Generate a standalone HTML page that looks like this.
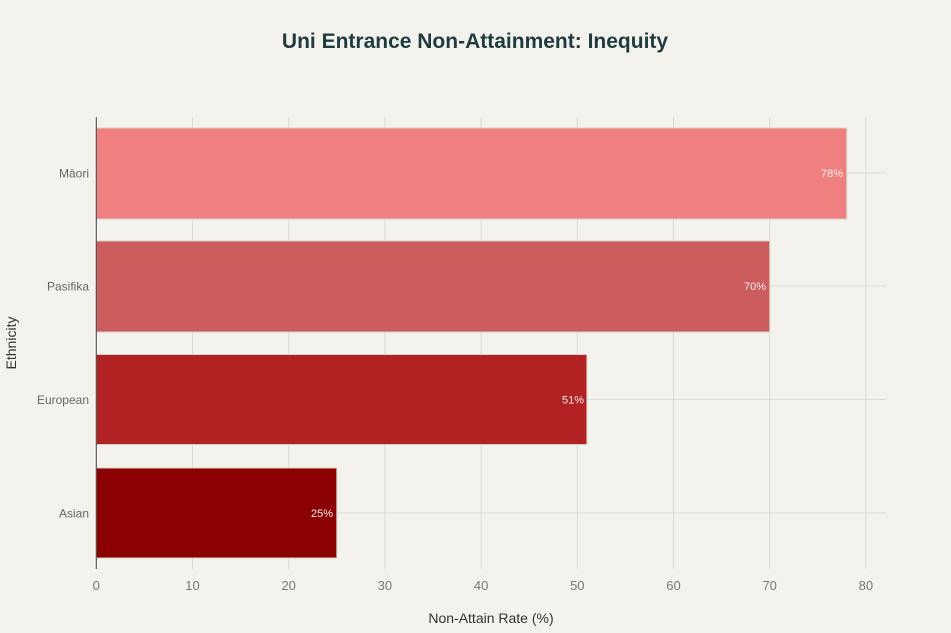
<!DOCTYPE html>
<html><head><meta charset="utf-8"><style>
html,body{margin:0;padding:0;background:#F3F2EC;}
svg{display:block;font-family:"Liberation Sans",sans-serif;}
</style></head><body>
<svg width="951" height="633" viewBox="0 0 951 633">
<rect width="951" height="633" fill="#F3F2EC"/>
<text x="475" y="48" text-anchor="middle" font-size="21" font-weight="bold" fill="#1F3B3F">Uni Entrance Non-Attainment: Inequity</text>
<g stroke="#DCDCD6" stroke-width="1">
<line x1="192.5" y1="117" x2="192.5" y2="569"/>
<line x1="288.7" y1="117" x2="288.7" y2="569"/>
<line x1="384.9" y1="117" x2="384.9" y2="569"/>
<line x1="481.1" y1="117" x2="481.1" y2="569"/>
<line x1="577.3" y1="117" x2="577.3" y2="569"/>
<line x1="673.5" y1="117" x2="673.5" y2="569"/>
<line x1="769.7" y1="117" x2="769.7" y2="569"/>
<line x1="865.9" y1="117" x2="865.9" y2="569"/>
<line x1="96" y1="173" x2="886" y2="173"/>
<line x1="96" y1="286" x2="886" y2="286"/>
<line x1="96" y1="399.5" x2="886" y2="399.5"/>
<line x1="96" y1="513" x2="886" y2="513"/>
</g>
<g stroke="#D8D0C8" stroke-width="1">
<rect x="96.3" y="128" width="750.4" height="91" fill="#F08080"/>
<rect x="96.3" y="241" width="673.4" height="91" fill="#CD5C5C"/>
<rect x="96.3" y="354.5" width="490.6" height="90" fill="#B22222"/>
<rect x="96.3" y="468" width="240.5" height="90" fill="#8B0000"/>
</g>
<line x1="96.3" y1="117" x2="96.3" y2="569" stroke="#444" stroke-width="1"/>
<g font-size="11" fill="#F3EEEE" text-anchor="end">
<text x="843" y="177">78%</text>
<text x="766" y="290">70%</text>
<text x="584" y="403.5">51%</text>
<text x="333" y="517">25%</text>
</g>
<g font-size="12" fill="#666" text-anchor="end">
<text x="89" y="177.5">Māori</text>
<text x="89" y="290.5">Pasifika</text>
<text x="89" y="404">European</text>
<text x="89" y="517.5">Asian</text>
</g>
<g font-size="13" fill="#777" text-anchor="middle">
<text x="96.3" y="590">0</text>
<text x="192.5" y="590">10</text>
<text x="288.7" y="590">20</text>
<text x="384.9" y="590">30</text>
<text x="481.1" y="590">40</text>
<text x="577.3" y="590">50</text>
<text x="673.5" y="590">60</text>
<text x="769.7" y="590">70</text>
<text x="865.9" y="590">80</text>
</g>
<text x="491" y="623" text-anchor="middle" font-size="14" fill="#333">Non-Attain Rate (%)</text>
<text x="16" y="343" text-anchor="middle" font-size="14" fill="#333" transform="rotate(-90 16 343)">Ethnicity</text>
</svg>
</body></html>
